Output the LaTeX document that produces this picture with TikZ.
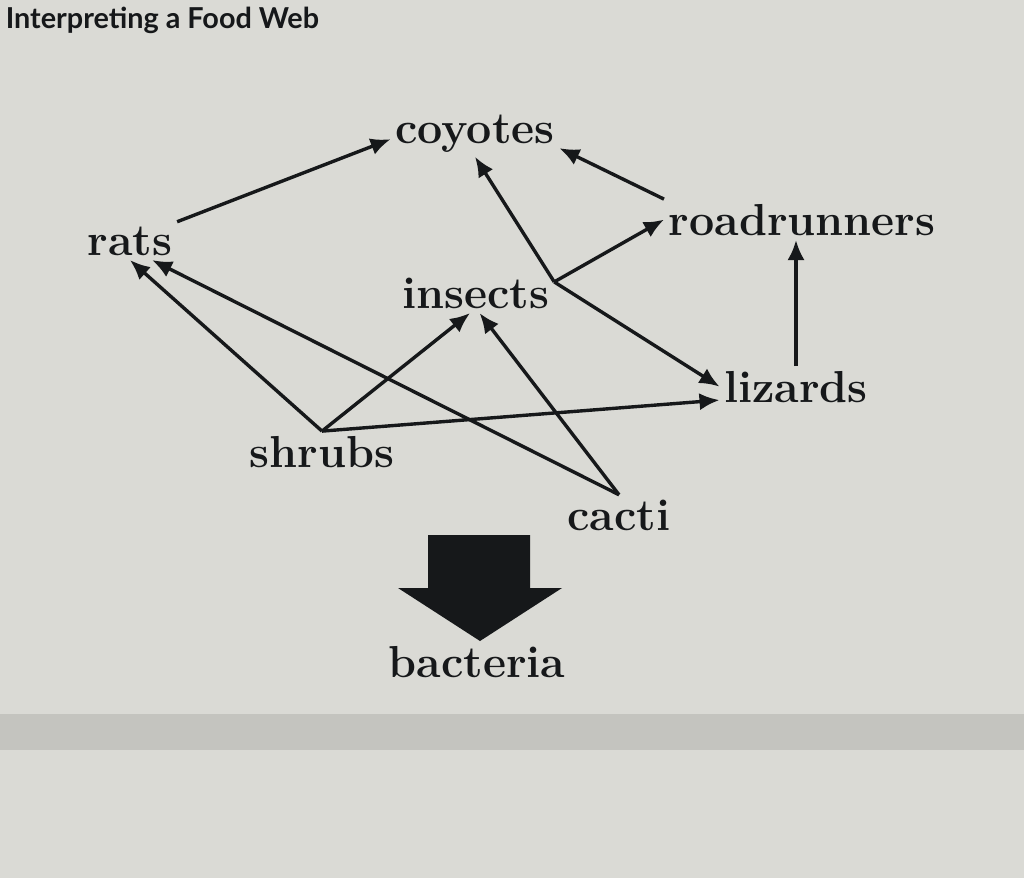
\documentclass[tikz,border=0pt]{standalone}
\usepackage{fontspec}
\newfontfamily\titlefont{Lato}
\usetikzlibrary{arrows.meta}
\definecolor{screen}{RGB}{218,218,213}
\definecolor{screenedge}{RGB}{196,196,191}
\definecolor{ink}{RGB}{22,24,26}

\begin{document}
\begin{tikzpicture}[x=0.25pt, y=-0.25pt,
  species/.style={anchor=base, font=\fontsize{11.2}{13}\selectfont\bfseries, text=ink, inner sep=1pt},
  feeds/.style={draw=ink, line width=0.85pt, -{Latex[length=5pt,width=4.3pt]}}]
% screen
\fill[screen] (0,0) rectangle (1024,878);
\fill[screenedge] (0,714) rectangle (1024,750);
\useasboundingbox (0,0) rectangle (1024,878);
\node[anchor=base west, font=\titlefont\bfseries\fontsize{7.2}{9}\selectfont, text=ink, inner sep=0pt] (title) at (5,28) {Interpreting a Food Web};

% species
\node[species] (coyotes) at (475,143) {coyotes};
\node[species] (rats) at (130,255) {rats};
\node[species] (roadrunners) at (802,235) {roadrunners};
\node[species] (insects) at (476,308) {insects};
\node[species] (lizards) at (796,402) {lizards};
\node[species] (shrubs) at (322,467) {shrubs};
\node[species] (cacti) at (619,530) {cacti};
\node[species] (bacteria) at (477,677) {bacteria};

% who eats whom
\foreach \a/\b in {rats.north east/coyotes.184, roadrunners.north west/coyotes.-10,
    insects.8/coyotes.south, insects.8/roadrunners.west, insects.8/lizards.west,
    shrubs.north/rats.south, shrubs.north/lizards.190, cacti.north/insects.-80}
  \draw[feeds] (\a) -- (\b);
\draw[feeds] (shrubs.north) -- ([shift={(-6,0)}]insects.south);
\draw[feeds] (cacti.north) -- ([shift={(22,0)}]rats.south);
\draw[feeds] (lizards.north) -- (lizards.north |- roadrunners.south);

% decomposers
\fill[ink] (428,535) -- (530,535) -- (530,588) -- (562,588) -- (480,641)
  -- (398,588) -- (428,588) -- cycle;
\end{tikzpicture}
\end{document}
